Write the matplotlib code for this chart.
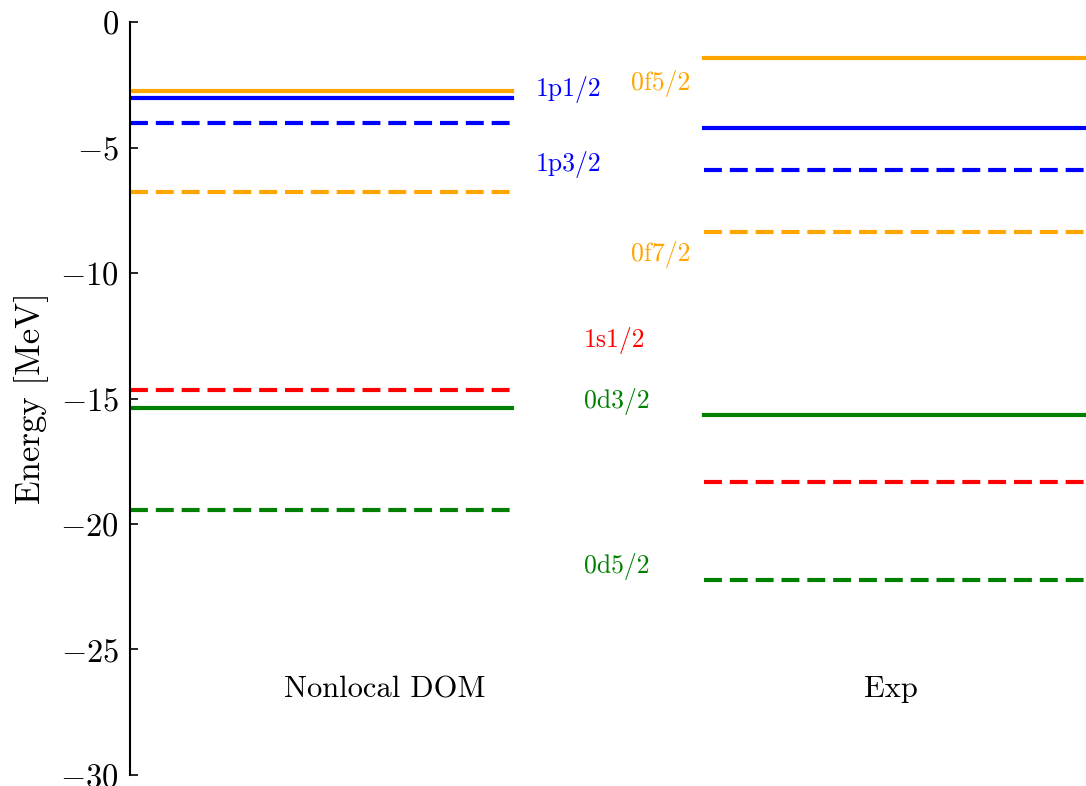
import matplotlib
matplotlib.use("Agg")
import matplotlib.pyplot as plt

plt.rcParams['font.family'] = 'serif'
plt.rcParams['font.serif'] = ['cmr10']
plt.rcParams['mathtext.fontset'] = 'cm'
plt.rcParams['axes.formatter.use_mathtext'] = True

# single-particle levels (MeV)
states = ['0f5/2', '1p1/2', '1p3/2', '0f7/2', '1s1/2', '0d3/2', '0d5/2']
colors = ['orange', 'blue', 'blue', 'orange', 'red', 'green', 'green']
styles = ['solid', 'solid', 'dashed', 'dashed', 'dashed', 'solid', 'dashed']
dom_levels = [-2.75, -3.03, -4.02, -6.77, -14.66, -15.38, -19.44]
exp_levels = [-1.43, -4.22, -5.90, -8.37, -18.33, -15.66, -22.23]

# label positions (x in data units, y in MeV)
label_x = [1.31, 1.06, 1.06, 1.31, 1.186, 1.186, 1.186]
label_y = [-2.45, -2.7, -5.68, -9.25, -12.7, -15.1, -21.7]

columns = ['Nonlocal DOM', 'Exp']
col_span = [(0.0, 1.0), (1.5, 2.5)]
col_x = [0.665, 1.99]

fig = plt.figure(figsize=(10.86, 7.86), dpi=100)
ax = fig.add_axes([0.1197, 0.014, 0.8803, 0.958])

for levels, (x0, x1) in zip([dom_levels, exp_levels], col_span):
    for e, c, s in zip(levels, colors, styles):
        ls = '-' if s == 'solid' else (0, (4.3, 1.9))
        ax.plot([x0, x1], [e, e], color=c, lw=3, linestyle=ls)

for name, c, lx, ly in zip(states, colors, label_x, label_y):
    ax.text(lx, ly, name, color=c, fontsize=18.5, ha='left', va='center')

for name, cx in zip(columns, col_x):
    ax.text(cx, -26.6, name, fontsize=22, ha='center', va='center')

ax.set_xlim(0, 2.5)
ax.set_ylim(-30, 0)
ax.set_yticks([0, -5, -10, -15, -20, -25, -30])
ax.set_xticks([])
for sp in ['top', 'right', 'bottom']:
    ax.spines[sp].set_visible(False)
ax.spines['left'].set_linewidth(1.5)
ax.tick_params(axis='y', direction='in', length=6, width=1.2, labelsize=23.5, pad=8)
ax.set_ylabel('Energy [MeV]', fontsize=25, labelpad=8)

fig.savefig('out.png', dpi=100)
